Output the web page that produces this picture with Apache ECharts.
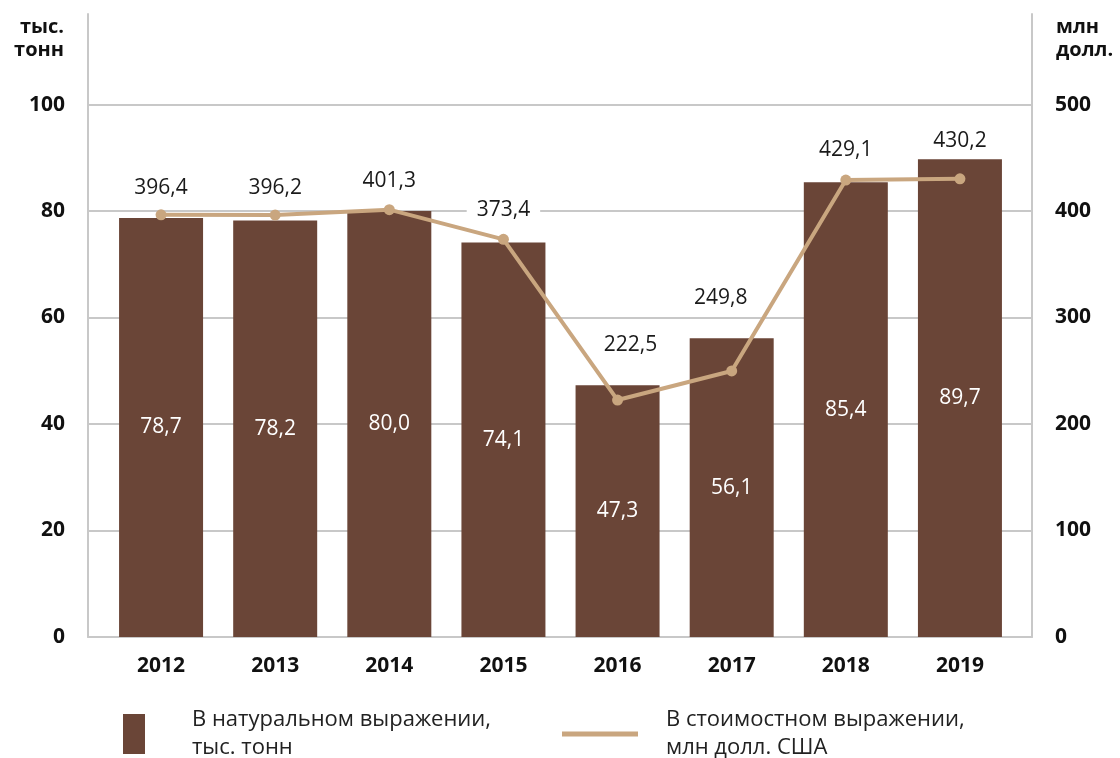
<!DOCTYPE html>
<html>
<head>
<meta charset="utf-8">
<script src="https://cdn.jsdelivr.net/npm/echarts@6/dist/echarts.min.js"></script>
<style>
  html, body { margin: 0; padding: 0; background: #fff; }
  #chart { width: 1120px; height: 758px; }
</style>
</head>
<body>
<div id="chart"></div>
<script>
// Years on the category axis
const years = ['2012', '2013', '2014', '2015', '2016', '2017', '2018', '2019'];
// Volume, thousand tonnes (bars, left axis)
const volumeKt = [78.7, 78.2, 80.0, 74.1, 47.3, 56.1, 85.4, 89.7];
// Value, million USD (line, right axis)
const valueMlnUsd = [396.4, 396.2, 401.3, 373.4, 222.5, 249.8, 429.1, 430.2];
// Axis tick labels
const leftTicks = [0, 20, 40, 60, 80, 100];
const rightTicks = [0, 100, 200, 300, 400, 500];
// Axis units and series names
const leftUnit = 'тыс.\nтонн';
const rightUnit = 'млн\nдолл.';
const barName = 'В натуральном выражении,\nтыс. тонн';
const lineName = 'В стоимостном выражении,\nмлн долл. США';

// Extra nudges for line value labels so they clear the line
const lineLabelNudge = [[0, 2], [0, 2], [0, 0], [0, 0], [13, -26], [-11, -44], [0, -1], [0, -9]];

const FONT = '"Open Sans", "DejaVu Sans", sans-serif';
const BAR_COLOR = '#6a4537';
const LINE_COLOR = '#c9a67f';
const GRID_COLOR = '#c8c8c8';
const TEXT_DARK = '#111111';
const fmt = v => v.toFixed(1).replace('.', ',');

const leftMax = leftTicks[leftTicks.length - 1];
const rightMax = rightTicks[rightTicks.length - 1];
const headroom = 1.17; // axis lines run a little above the top tick
const leftScale = { min: 0, max: leftMax * headroom, interval: leftTicks[1] - leftTicks[0] };
const rightScale = { min: 0, max: rightMax * headroom, interval: rightTicks[1] - rightTicks[0] };

const tickLabel = (ticks, margin) => ({
  fontFamily: FONT, fontSize: 21, fontWeight: 'bold', color: TEXT_DARK, margin,
  formatter: v => (ticks.indexOf(v) >= 0 ? String(v) : '')
});

const chart = echarts.init(document.getElementById('chart'), null, { renderer: 'canvas' });

chart.setOption({
  animation: false,
  backgroundColor: '#ffffff',
  textStyle: { fontFamily: FONT },
  graphic: [
    {
      type: 'text', x: 64, y: 16,
      style: {
        text: leftUnit, fill: TEXT_DARK,
        font: 'bold 20px ' + FONT, lineHeight: 23,
        textAlign: 'right', align: 'right', textVerticalAlign: 'top', verticalAlign: 'top'
      }
    },
    {
      type: 'text', x: 1056, y: 16,
      style: {
        text: rightUnit, fill: TEXT_DARK,
        font: 'bold 20px ' + FONT, lineHeight: 23,
        textAlign: 'left', align: 'left', textVerticalAlign: 'top', verticalAlign: 'top'
      }
    }
  ],
  // Outer grid carries the frame and gridlines; inner grid holds the data with side padding
  grid: [
    { left: 88, right: 88, top: 14, bottom: 121, containLabel: false },
    { left: 104, right: 103, top: 14, bottom: 121, containLabel: false }
  ],
  legend: [
    {
      data: [{ name: barName, icon: 'rect' }],
      left: 118, top: 701,
      itemWidth: 22, itemHeight: 40,
      selectedMode: false,
      textStyle: { fontFamily: FONT, fontSize: 22, color: '#222', lineHeight: 28, padding: [0, 0, 0, 42] }
    },
    {
      data: [{ name: lineName, icon: 'rect', itemStyle: { color: LINE_COLOR } }],
      left: 557, top: 701,
      itemWidth: 76, itemHeight: 5,
      selectedMode: false,
      textStyle: { fontFamily: FONT, fontSize: 22, color: '#222', lineHeight: 28, padding: [0, 0, 0, 23] }
    }
  ],
  xAxis: [
    {
      type: 'category', gridIndex: 0, data: years,
      axisLine: { show: true, lineStyle: { color: GRID_COLOR, width: 2 } },
      axisTick: { show: false },
      axisLabel: { show: false }
    },
    {
      type: 'category', gridIndex: 1, data: years,
      axisLine: { show: false },
      axisTick: { show: false },
      axisLabel: { fontFamily: FONT, fontSize: 21, fontWeight: 'bold', color: TEXT_DARK, margin: 19 }
    }
  ],
  yAxis: [
    Object.assign({
      type: 'value', gridIndex: 0, position: 'left',
      axisLine: { show: true, lineStyle: { color: GRID_COLOR, width: 2 } },
      axisTick: { show: false },
      axisLabel: tickLabel(leftTicks, 23),
      splitLine: {
        show: true,
        lineStyle: { color: leftTicks.map(() => GRID_COLOR).concat(['rgba(0,0,0,0)']), width: 2 }
      }
    }, leftScale),
    Object.assign({
      type: 'value', gridIndex: 0, position: 'right',
      axisLine: { show: true, lineStyle: { color: GRID_COLOR, width: 2 } },
      axisTick: { show: false },
      axisLabel: tickLabel(rightTicks, 23),
      splitLine: { show: false }
    }, rightScale),
    Object.assign({ type: 'value', gridIndex: 1, position: 'left', show: false, splitLine: { show: false } }, leftScale),
    Object.assign({ type: 'value', gridIndex: 1, position: 'right', show: false, splitLine: { show: false } }, rightScale)
  ],
  series: [
    {
      name: barName,
      type: 'bar',
      xAxisIndex: 1, yAxisIndex: 2,
      data: volumeKt,
      barWidth: 84,
      itemStyle: { color: BAR_COLOR },
      label: {
        show: true, position: 'inside',
        fontFamily: FONT, fontSize: 21, color: '#ffffff',
        formatter: p => fmt(p.value)
      },
      z: 2
    },
    {
      name: lineName,
      type: 'line',
      xAxisIndex: 1, yAxisIndex: 3,
      data: valueMlnUsd.map((v, i) => ({
        value: v,
        label: { offset: lineLabelNudge[i] }
      })),
      symbol: 'circle',
      symbolSize: 11,
      lineStyle: { color: LINE_COLOR, width: 4 },
      itemStyle: { color: LINE_COLOR },
      label: {
        show: true, position: 'top', distance: 9,
        fontFamily: FONT, fontSize: 21, color: '#1a1a1a',
        backgroundColor: '#ffffff', padding: [4, 10],
        formatter: p => fmt(p.value)
      },
      z: 3
    }
  ]
});
</script>
</body>
</html>
